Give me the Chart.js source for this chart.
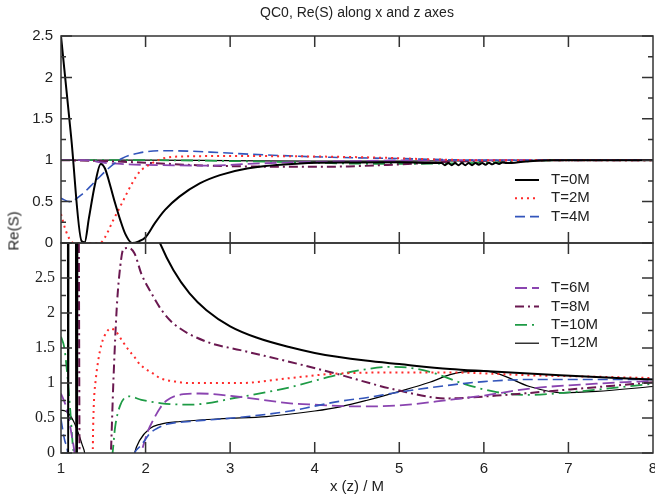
<!DOCTYPE html>
<html>
<head>
<meta charset="utf-8">
<script src="https://cdn.jsdelivr.net/npm/chart.js@4"></script>
<style>
body{margin:0;background:#fff;font-family:"Liberation Sans",Arial,sans-serif;}
#wrap{position:relative;width:655px;height:498px;}
canvas{position:absolute;left:0;top:0;}
.lbl{position:absolute;color:#222;white-space:nowrap;transform:translate(-50%,-50%);}
#title{left:357px;top:12px;font-size:14px;}
#ylab{left:13px;top:231px;font-size:15px;transform:translate(-50%,-50%) rotate(-90deg);}
#xlab{left:357px;top:485px;font-size:15px;}
</style>
</head>
<body>
<div id="wrap">
<canvas id="topChart" width="655" height="498"></canvas>
<canvas id="botChart" width="655" height="498"></canvas>
<div class="lbl" id="title">QC0, Re(S) along x and z axes</div>
<div class="lbl" id="ylab">Re(S)</div>
<div class="lbl" id="xlab">x (z) / M</div>
</div>
<script>
// series names + styles
const times = ["T=0M","T=2M","T=4M","T=6M","T=8M","T=10M","T=12M"];
const colors = ["#000000","#ff2b2b","#3355bb","#8a44b0","#6a1850","#1e9b45","#000000"];
const dashes = [[],[2,4],[10,5],[12,5],[9,4,2,4],[12,5,2,5],[]];
const widths = [2,2,1.6,1.8,2,1.8,1.2];

// top panel: along x axis  [x, Re(S)]
const topT0 = [[1,2.5],[1.12,1.28],[1.245,0.02],[1.28,0.01],[1.33,0.3],[1.4,0.7],[1.47,0.955],[1.52,0.9],[1.58,0.7],[1.64,0.48],[1.7,0.28],[1.76,0.11],[1.84,0],[1.92,0.02],[2,0.07],[2.11,0.24],[2.23,0.4],[2.4,0.56],[2.64,0.72],[2.88,0.82],[3.2,0.9],[3.83,0.96],[4.5,0.972],[5,0.975],[5.46,0.965],
  [5.5,0.965],[5.54,0.94],[5.58,0.965],[5.62,0.94],[5.66,0.965],[5.7,0.94],[5.74,0.965],[5.78,0.94],[5.82,0.965],[5.86,0.94],[5.9,0.965],[5.94,0.945],[5.98,0.965],[6.02,0.945],[6.06,0.968],[6.1,0.95],[6.14,0.97],[6.18,0.955],[6.22,0.972],[6.27,0.965],[6.5,0.985],[6.8,1],[8,1]];
const topT2 = [[1,0.35],[1.05,0.17],[1.1,0.05],[1.15,0],[1.3,0],[1.46,0],[1.52,0.07],[1.62,0.28],[1.72,0.48],[1.84,0.72],[1.93,0.86],[2.07,0.96],[2.2,1.02],[2.4,1.045],[3,1.05],[4,1.045],[4.8,1.03],[5.4,1.01],[6,1],[8,1]];
const topT4 = [[1,0.54],[1.1,0.5],[1.24,0.58],[1.4,0.74],[1.56,0.9],[1.72,1.02],[1.91,1.085],[2.19,1.115],[2.5,1.11],[2.9,1.09],[3.5,1.06],[4.2,1.035],[5,1.02],[5.6,1.005],[6.2,1],[8,1]];
const topT6 = [[1,1],[1.3,1],[1.5,0.97],[1.8,0.95],[2.2,0.94],[2.8,0.935],[3.2,0.955],[3.8,0.975],[4.5,0.99],[5.5,1],[8,1]];
const topT8 = [[1,1],[1.5,0.99],[2,0.97],[2.6,0.94],[3.2,0.925],[3.9,0.92],[4.4,0.925],[5,0.95],[5.6,0.98],[6.2,0.995],[8,1]];
const topT10 = [[1,1],[2,1],[3,0.99],[3.8,0.975],[4.4,0.96],[5,0.955],[5.5,0.96],[6,0.97],[6.5,0.99],[7,1],[8,1]];
const topT12 = [[1,1],[2,1],[3,0.995],[4,0.99],[5,0.99],[6,0.995],[7,1],[8,1]];

// bottom panel: along z axis
const botT0 = [[1,6],[1.08,6],[1.085,-1],[1.09,6],[1.175,6],[1.18,-1],[1.19,-1],[1.195,6],[1.9,4.2],[2.05,3.38],[2.17,3],[2.33,2.61],[2.52,2.28],[2.72,2.04],[3,1.81],[3.31,1.65],[3.71,1.51],[4,1.43],[4.6,1.32],[5,1.27],[5.6,1.2],[6,1.17],[6.9,1.11],[8,1.05]];
const botT2 = [[1,-0.5],[1.3,-0.5],[1.375,0],[1.38,0.37],[1.39,0.75],[1.41,1.04],[1.44,1.32],[1.48,1.56],[1.54,1.73],[1.59,1.78],[1.66,1.72],[1.72,1.61],[1.8,1.47],[1.87,1.37],[1.93,1.27],[2.11,1.12],[2.17,1.07],[2.35,1.02],[2.52,1],[3.12,1],[3.71,1.07],[4.2,1.13],[5,1.15],[5.6,1.15],[6.54,1.11],[7.3,1.09],[8,1.07]];
const botT4 = [[1,0.48],[1.04,0.2],[1.08,0],[1.1,-0.3],[1.8,-0.3],[1.87,0],[1.93,0.09],[1.99,0.18],[2.05,0.28],[2.15,0.36],[2.25,0.41],[2.52,0.45],[3.12,0.51],[3.71,0.6],[4,0.67],[4.3,0.74],[4.61,0.79],[5,0.87],[5.6,0.97],[6,1.02],[6.54,1.05],[8,1.05]];
const botT6 = [[1,0.85],[1.05,0.7],[1.09,0.51],[1.12,0.3],[1.15,0.09],[1.16,0],[1.18,-0.3],[1.9,-0.3],[1.95,0],[2.03,0.32],[2.09,0.47],[2.17,0.64],[2.25,0.75],[2.45,0.84],[2.64,0.85],[3.12,0.8],[3.71,0.71],[4,0.69],[4.5,0.665],[5,0.68],[5.6,0.76],[6,0.82],[6.54,0.92],[7.33,0.99],[8,1.03]];
const botT8 = [[1,6],[1.2,6],[1.225,-1],[1.55,-1],[1.59,0],[1.62,1.04],[1.66,2.09],[1.7,2.66],[1.74,2.92],[1.8,2.93],[1.87,2.85],[1.95,2.56],[2.07,2.28],[2.19,2.04],[2.33,1.85],[2.72,1.59],[3.12,1.47],[3.71,1.3],[4.2,1.15],[4.97,0.9],[5.56,0.78],[6.15,0.82],[6.94,0.9],[8,1.01]];
const botT10 = [[1,1.66],[1.04,1.5],[1.08,1.05],[1.11,0.6],[1.14,0.1],[1.15,0],[1.17,-0.5],[1.55,-0.5],[1.61,0],[1.64,0.37],[1.7,0.68],[1.8,0.81],[1.95,0.76],[2.19,0.71],[2.52,0.69],[3.12,0.8],[3.71,0.94],[4.18,1.09],[4.57,1.19],[4.9,1.23],[5.1,1.22],[5.36,1.16],[5.76,0.99],[6.15,0.87],[6.54,0.83],[6.94,0.86],[8,0.99]];
const botT12 = [[1,0.61],[1.05,0.6],[1.1,0.55],[1.15,0.45],[1.2,0.3],[1.25,0.12],[1.28,0],[1.3,-0.2],[1.84,-0.2],[1.87,0],[1.93,0.18],[2.05,0.35],[2.17,0.41],[2.41,0.45],[2.92,0.49],[3.43,0.52],[4,0.6],[4.3,0.66],[4.61,0.75],[4.97,0.87],[5.36,1.01],[5.6,1.12],[5.76,1.16],[6.03,1.17],[6.2,1.12],[6.54,0.95],[6.94,0.86],[7.33,0.88],[8,0.95]];

const topSeries = [topT0,topT2,topT4,topT6,topT8,topT10,topT12];
const botSeries = [botT0,botT2,botT4,botT6,botT8,botT10,botT12];
const xTicks = [1,2,3,4,5,6,7,8];

function makeSets(series){
return series.map((pts,i)=>({
label:times[i],
data:pts.map(p=>({x:p[0],y:p[1]})),
borderColor:colors[i],
borderWidth:widths[i],
borderDash:dashes[i],
pointRadius:0,
fill:false,
cubicInterpolationMode:"monotone",
clip:0
}));
}

// frame with inward ticks on all four sides
const frameTicks = {
id:"frameTicks",
afterDraw(chart){
const {ctx,chartArea:a,scales:{x,y}} = chart;
ctx.save();
ctx.strokeStyle = "#333";
ctx.lineWidth = 1.5;
ctx.strokeRect(a.left,a.top,a.width,a.height);
ctx.beginPath();
xTicks.slice(1,-1).forEach(v=>{
const px = x.getPixelForValue(v);
ctx.moveTo(px,a.top); ctx.lineTo(px,a.top+11);
ctx.moveTo(px,a.bottom); ctx.lineTo(px,a.bottom-11);
});
for(let k=0;k<=Math.round(y.max*4);k++){
const py = y.getPixelForValue(k/4);
const len = k%2===0 ? 11 : 5;
ctx.moveTo(a.left,py); ctx.lineTo(a.left+len,py);
ctx.moveTo(a.right,py); ctx.lineTo(a.right-len,py);
}
ctx.stroke();
ctx.restore();
}
};

// legend drawn inside the plot
const lineLegend = {
id:"lineLegend",
afterDraw(chart,args,opts){
const ctx = chart.ctx;
ctx.save();
opts.items.forEach((idx,k)=>{
const ds = chart.data.datasets[idx];
const yy = opts.y + k*opts.step;
ctx.strokeStyle = ds.borderColor;
ctx.lineWidth = ds.borderWidth;
ctx.setLineDash(ds.borderDash);
ctx.beginPath();
ctx.moveTo(opts.x,yy); ctx.lineTo(opts.x+24,yy);
ctx.stroke();
ctx.setLineDash([]);
ctx.fillStyle = "#222";
ctx.font = '15px "Liberation Sans"';
ctx.textBaseline = "middle";
ctx.fillText(ds.label,opts.x+36,yy);
});
ctx.restore();
}
};

const sansTick = {family:"Liberation Sans",size:15};

new Chart(
document.getElementById("topChart"),
{
type:"line",
data:{datasets:makeSets(topSeries)},
plugins:[frameTicks,lineLegend],
options:{
responsive:false,
animation:false,
events:[],
layout:{padding:{top:36,bottom:255,left:0,right:2}},
plugins:{
legend:{display:false},
tooltip:{enabled:false},
lineLegend:{items:[0,1,2],x:515,y:180,step:18.3}
},
scales:{
x:{type:"linear",min:1,max:8,display:false},
y:{
min:0,max:2.5,
grid:{display:false,drawTicks:false},
border:{display:false},
ticks:{stepSize:0.5,color:"#222",font:sansTick,padding:8,callback:v=>String(v)},
afterFit:s=>{s.width=61;}
}
}
}
});

new Chart(
document.getElementById("botChart"),
{
type:"line",
data:{datasets:makeSets(botSeries)},
plugins:[frameTicks,lineLegend],
options:{
responsive:false,
animation:false,
events:[],
layout:{padding:{top:243,bottom:0,left:0,right:2}},
plugins:{
legend:{display:false},
tooltip:{enabled:false},
lineLegend:{items:[3,4,5,6],x:515,y:288,step:18.4}
},
scales:{
x:{
type:"linear",min:1,max:8,
grid:{display:false,drawTicks:false},
border:{display:false},
ticks:{stepSize:1,color:"#222",font:sansTick,padding:7},
afterFit:s=>{s.height=45;s.paddingLeft=0;s.paddingRight=0;}
},
y:{
min:0,max:3,
grid:{display:false,drawTicks:false},
border:{display:false},
ticks:{stepSize:0.5,color:"#222",font:{family:"Liberation Serif",size:16},padding:6,
callback:v=>v>=3?null:String(v)},
afterFit:s=>{s.width=61;}
}
}
}
});
</script>
</body>
</html>
